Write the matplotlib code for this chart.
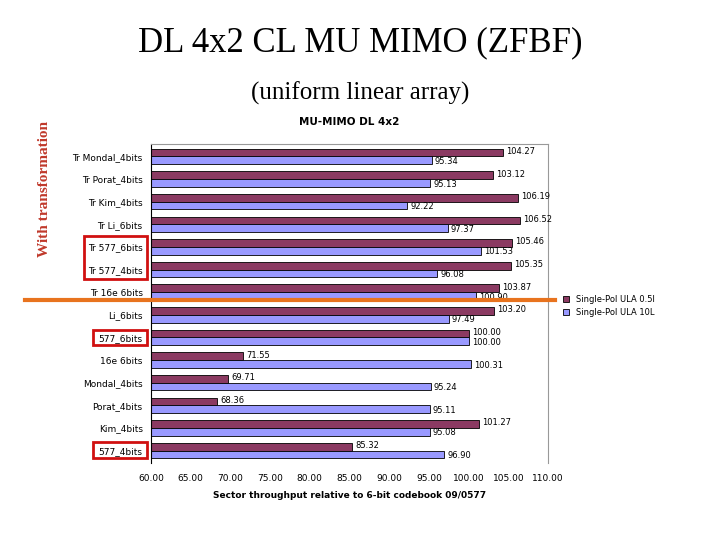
import matplotlib
matplotlib.use("Agg")
import matplotlib.pyplot as plt
from matplotlib.patches import Rectangle
from matplotlib.lines import Line2D
import numpy as np

categories = ["Tr Mondal_4bits", "Tr Porat_4bits", "Tr Kim_4bits", "Tr Li_6bits",
              "Tr 577_6bits", "Tr 577_4bits", "Tr 16e 6bits", "Li_6bits", "577_6bits",
              "16e 6bits", "Mondal_4bits", "Porat_4bits", "Kim_4bits", "577_4bits"]
ula05 = [104.27, 103.12, 106.19, 106.52, 105.46, 105.35, 103.87, 103.20, 100.00,
         71.55, 69.71, 68.36, 101.27, 85.32]
ula10 = [95.34, 95.13, 92.22, 97.37, 101.53, 96.08, 100.90, 97.49, 100.00,
         100.31, 95.24, 95.11, 95.08, 96.90]
xticks = [60, 65, 70, 75, 80, 85, 90, 95, 100, 105, 110]

fig = plt.figure(figsize=(7.2, 5.4), dpi=100)
ax = fig.add_axes([151/720, 1-463/540, (548-151)/720, (463-144)/540])
y = np.arange(len(categories))
h = 0.34
c1, c2 = "#8B3A62", "#9999FF"
b1 = ax.barh(y - h/2, ula05, height=h, color=c1, edgecolor="black", lw=0.6, label="Single-Pol ULA 0.5l")
b2 = ax.barh(y + h/2, ula10, height=h, color=c2, edgecolor="black", lw=0.6, label="Single-Pol ULA 10L")
for yy, v in zip(y - h/2, ula05):
    ax.text(v + 0.4, yy - 0.05, f"{v:.2f}", fontsize=6, va="center")
for yy, v in zip(y + h/2, ula10):
    ax.text(v + 0.4, yy + 0.05, f"{v:.2f}", fontsize=6, va="center")
ax.set_xlim(60, 110)
ax.set_ylim(len(categories) - 0.45, -0.55)
ax.set_yticks(y)
ax.set_yticklabels(categories, fontsize=6.5)
ax.set_xticks(xticks)
ax.set_xticklabels([f"{t:.2f}" for t in xticks], fontsize=6.5)
ax.tick_params(length=0, pad=6)
ax.xaxis.set_tick_params(pad=8)
ax.set_xlabel("Sector throughput relative to 6-bit codebook 09/0577", fontsize=6.5, fontweight="bold", labelpad=6)
for s in ["top", "right"]:
    ax.spines[s].set_color("#999999")
ax.spines["bottom"].set_visible(False)
ax.text(0.5, 1.06, "MU-MIMO DL 4x2", transform=ax.transAxes, ha="center", fontsize=7.5, fontweight="bold")
ax.legend(handles=[b1, b2], loc="upper left", bbox_to_anchor=(1.02, 0.55), frameon=False,
          fontsize=6, handlelength=0.7, handleheight=0.7)

fig.text(0.5, 0.905, "DL 4x2 CL MU MIMO (ZFBF)", ha="center", fontsize=25, family="Liberation Serif")
fig.text(0.5, 0.815, "(uniform linear array)", ha="center", fontsize=18, family="Liberation Serif")
fig.text(0.062, 0.65, "With transformation", rotation=90, ha="center", va="center", fontsize=11,
         fontweight="bold", color="#C0392B", family="Liberation Serif")
fig.add_artist(Line2D([25/720, 555/720], [1-300/540]*2, color="#E8731E", lw=3))
for (x0, y0, x1, y1) in [(84, 236, 147, 279), (93, 330, 147, 345), (93, 442, 147, 458)]:
    fig.add_artist(Rectangle((x0/720, 1-y1/540), (x1-x0)/720, (y1-y0)/540, fill=False, ec="#D01010", lw=2))
fig.savefig("out.png", dpi=100)
